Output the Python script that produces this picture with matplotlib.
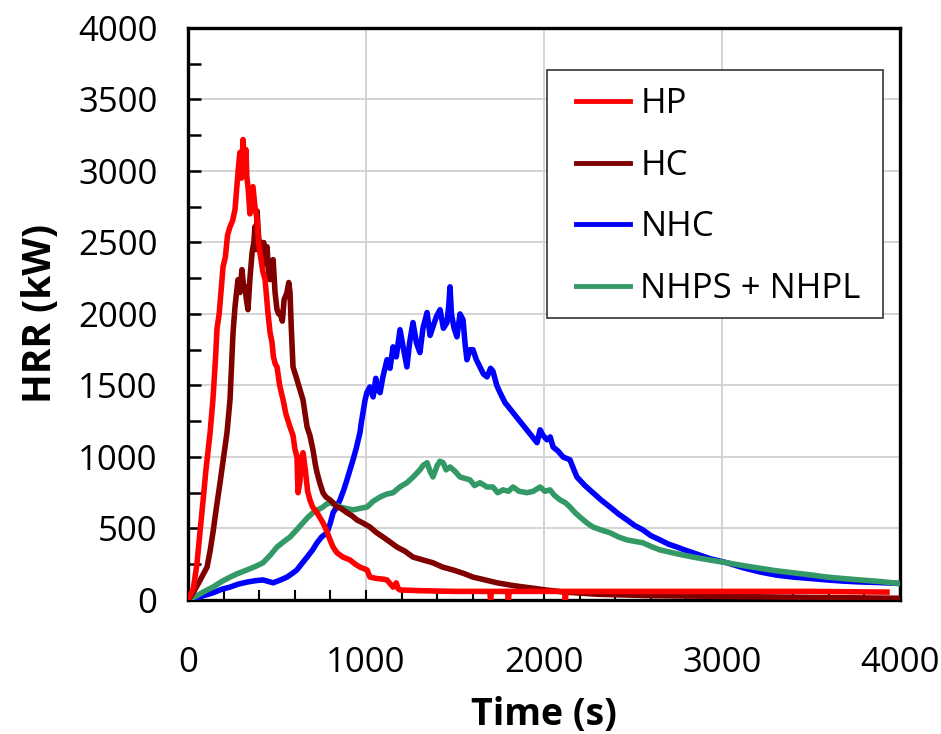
import matplotlib.pyplot as plt
from matplotlib.patches import Rectangle
from matplotlib.ticker import MultipleLocator

# HRR curves (time in s, HRR in kW)
HP_T = [0, 30, 50, 67, 85, 100, 124, 140, 155, 163, 175, 185, 197, 210, 222, 236, 250, 264,
        275, 285, 292, 300, 309, 318, 325, 331, 337, 348, 358, 365, 376, 388, 396, 404, 420,
        433, 449, 461, 472, 480, 490, 500, 515, 534, 550, 573, 590, 600, 612, 618, 628, 640,
        646, 660, 672, 685, 700, 725, 758, 780, 798, 815, 837, 870, 910, 940, 966, 1006, 1022,
        1060, 1100, 1118, 1152, 1170, 1180, 1191, 1300, 1500, 1695, 1700, 1705, 1795, 1800,
        1805, 2115, 2120, 2125, 2500, 3000, 3500, 3927]
HP_V = [0, 80, 250, 470, 700, 900, 1170, 1400, 1700, 1900, 2000, 2150, 2330, 2400, 2550, 2610,
        2650, 2730, 2900, 3050, 3130, 2950, 3220, 3000, 3150, 2950, 2890, 2700, 2880, 2890,
        2750, 2660, 2500, 2430, 2300, 2240, 2010, 1870, 1800, 1700, 1650, 1630, 1500, 1400,
        1300, 1210, 1150, 1060, 1000, 750, 820, 1000, 1030, 900, 760, 700, 650, 610, 540, 480,
        420, 370, 330, 300, 280, 250, 230, 210, 160, 150, 145, 140, 90, 120, 80, 70, 65, 60,
        60, 0, 60, 60, 0, 60, 60, 0, 60, 60, 60, 60, 55]

HC_T = [0, 28, 60, 107, 125, 140, 160, 180, 200, 219, 236, 245, 253, 264, 270, 281, 292, 303,
        312, 320, 328, 337, 348, 360, 370, 376, 382, 388, 396, 404, 415, 425, 435, 444, 452,
        461, 470, 478, 489, 500, 510, 517, 530, 540, 556, 566, 573, 580, 590, 610, 629, 646,
        658, 669, 685, 702, 715, 725, 740, 758, 775, 798, 815, 837, 860, 893, 920, 949, 980,
        1022, 1060, 1096, 1130, 1174, 1220, 1264, 1320, 1376, 1430, 1489, 1550, 1601, 1670,
        1736, 1830, 1921, 2010, 2107, 2300, 2600, 3000, 3500, 4000]
HC_V = [0, 50, 120, 230, 350, 470, 650, 820, 1000, 1170, 1400, 1650, 1870, 2050, 2120, 2240,
        2150, 2310, 2200, 2190, 2100, 2030, 2250, 2430, 2500, 2610, 2450, 2720, 2550, 2470,
        2380, 2500, 2350, 2470, 2300, 2240, 2300, 2380, 2150, 2030, 2000, 2010, 1950, 2100,
        2150, 2220, 2150, 1910, 1630, 1550, 1470, 1400, 1300, 1210, 1150, 1050, 950, 890, 820,
        750, 720, 700, 680, 650, 640, 610, 590, 560, 540, 510, 470, 440, 410, 370, 340, 300,
        280, 260, 230, 210, 185, 160, 140, 120, 100, 85, 70, 56, 40, 30, 25, 18, 12]

NHC_T = [0, 60, 140, 190, 236, 280, 331, 380, 421, 450, 478, 520, 556, 585, 612, 640, 669, 700,
         725, 750, 781, 800, 815, 835, 854, 875, 893, 910, 927, 945, 966, 975, 983, 995, 1005,
         1022, 1040, 1055, 1065, 1079, 1095, 1118, 1135, 1152, 1170, 1191, 1210, 1230, 1245,
         1264, 1283, 1303, 1320, 1343, 1360, 1376, 1395, 1416, 1435, 1455, 1465, 1472, 1480,
         1495, 1511, 1528, 1545, 1556, 1567, 1584, 1601, 1620, 1640, 1660, 1680, 1700, 1713,
         1735, 1753, 1781, 1961, 1978, 1995, 2017, 2035, 2051, 2080, 2107, 2146, 2165, 2185,
         2230, 2275, 2320, 2371, 2420, 2466, 2510, 2556, 2600, 2652, 2700, 2747, 2790, 2837,
         2930, 3028, 3120, 3213, 3300, 3399, 3500, 3590, 3680, 3775, 3880, 4000]
NHC_V = [0, 20, 50, 75, 90, 110, 125, 135, 140, 130, 120, 140, 160, 185, 210, 255, 300, 350,
         400, 440, 470, 540, 610, 650, 700, 770, 840, 910, 980, 1060, 1170, 1250, 1310, 1400,
         1450, 1490, 1420, 1550, 1470, 1450, 1560, 1680, 1620, 1770, 1700, 1890, 1760, 1630,
         1800, 1940, 1800, 1730, 1900, 2010, 1850, 1910, 1980, 2030, 1900, 1940, 2060, 2190,
         2000, 1900, 1840, 2000, 1960, 1800, 1680, 1750, 1750, 1680, 1630, 1580, 1560, 1620,
         1600, 1500, 1450, 1380, 1100, 1190, 1150, 1120, 1140, 1070, 1040, 1000, 980, 920, 860,
         800, 750, 700, 650, 600, 560, 520, 490, 450, 420, 390, 370, 350, 330, 290, 260, 225,
         196, 175, 160, 150, 140, 132, 126, 122, 115]

NHPS_T = [0, 50, 100, 140, 190, 236, 280, 331, 380, 421, 460, 500, 540, 573, 610, 646, 675, 702,
          730, 758, 778, 798, 820, 854, 890, 927, 965, 1006, 1040, 1079, 1115, 1152, 1190, 1230,
          1265, 1303, 1320, 1343, 1360, 1376, 1400, 1415, 1433, 1450, 1472, 1500, 1528, 1556,
          1584, 1610, 1640, 1680, 1713, 1740, 1770, 1800, 1826, 1860, 1904, 1940, 1978, 2005,
          2034, 2060, 2090, 2120, 2146, 2175, 2202, 2240, 2275, 2320, 2371, 2420, 2466, 2510,
          2556, 2600, 2652, 2740, 2837, 2930, 3028, 3120, 3213, 3300, 3399, 3500, 3590, 3680,
          3775, 3880, 4000]
NHPS_V = [0, 30, 65, 90, 130, 160, 185, 210, 235, 260, 310, 370, 410, 440, 490, 540, 580, 610,
          630, 650, 670, 680, 670, 650, 640, 630, 640, 650, 690, 720, 740, 750, 790, 820, 860,
          910, 940, 960, 900, 860, 940, 970, 960, 910, 930, 900, 860, 850, 840, 800, 820, 790,
          790, 750, 770, 760, 790, 760, 750, 760, 790, 760, 770, 730, 700, 680, 650, 610, 580,
          540, 510, 490, 470, 440, 420, 410, 400, 375, 350, 325, 300, 280, 260, 240, 222, 205,
          190, 175, 160, 150, 140, 130, 115]

LABELS = ["HP", "HC", "NHC", "NHPS + NHPL"]
COLORS = ["#ff0000", "#800000", "#0000ff", "#339966"]


def main():
    plt.rcParams["font.family"] = ["Open Sans", "DejaVu Sans"]

    fig = plt.figure(figsize=(9.41, 7.34), dpi=100)
    ax = fig.add_axes([0.1998, 0.1826, 0.7566, 0.7793])

    series = [(HP_T, HP_V), (HC_T, HC_V), (NHC_T, NHC_V), (NHPS_T, NHPS_V)]
    zorders = [6, 5, 3, 4]
    handles = []
    for (t, v), label, color, z in zip(series, LABELS, COLORS, zorders):
        (line,) = ax.plot(t, v, color=color, linewidth=4.0, label=label, zorder=z,
                          solid_joinstyle="round")
        handles.append(line)

    ax.set_xlim(0, 4000)
    ax.set_ylim(0, 4000)
    ax.xaxis.set_major_locator(MultipleLocator(1000))
    ax.xaxis.set_minor_locator(MultipleLocator(200))
    ax.yaxis.set_major_locator(MultipleLocator(500))
    ax.yaxis.set_minor_locator(MultipleLocator(250))

    ax.grid(which="major", color="#d4d4d4", linewidth=1.4, zorder=0)
    ax.set_axisbelow(True)

    ax.tick_params(axis="x", which="both", direction="in", length=7, width=1.5,
                   labelsize=25, pad=33)
    ax.tick_params(axis="y", which="both", direction="in", length=9, width=1.8,
                   labelsize=25, pad=22)
    for spine in ax.spines.values():
        spine.set_linewidth(2.4)
        spine.set_color("black")

    ax.set_xlabel("Time (s)", fontsize=27, fontweight="bold", labelpad=12)
    ax.set_ylabel("HRR (kW)", fontsize=28, fontweight="bold", labelpad=13)

    # legend frame drawn separately so the inner padding can match the reference
    box = Rectangle((0.504, 0.493), 0.472, 0.434, transform=ax.transAxes,
                    facecolor="white", edgecolor="#333333", linewidth=1.2, zorder=9)
    ax.add_patch(box)
    leg = ax.legend(handles=handles, loc="upper left", bbox_to_anchor=(0.545, 0.897),
                    borderaxespad=0, borderpad=0, fontsize=25, frameon=False,
                    labelspacing=0.8, handlelength=1.55, handletextpad=0.3)
    leg.set_zorder(10)
    for lh in leg.get_lines():
        lh.set_linewidth(3.5)

    fig.savefig("out.png", dpi=100)


if __name__ == "__main__":
    main()
